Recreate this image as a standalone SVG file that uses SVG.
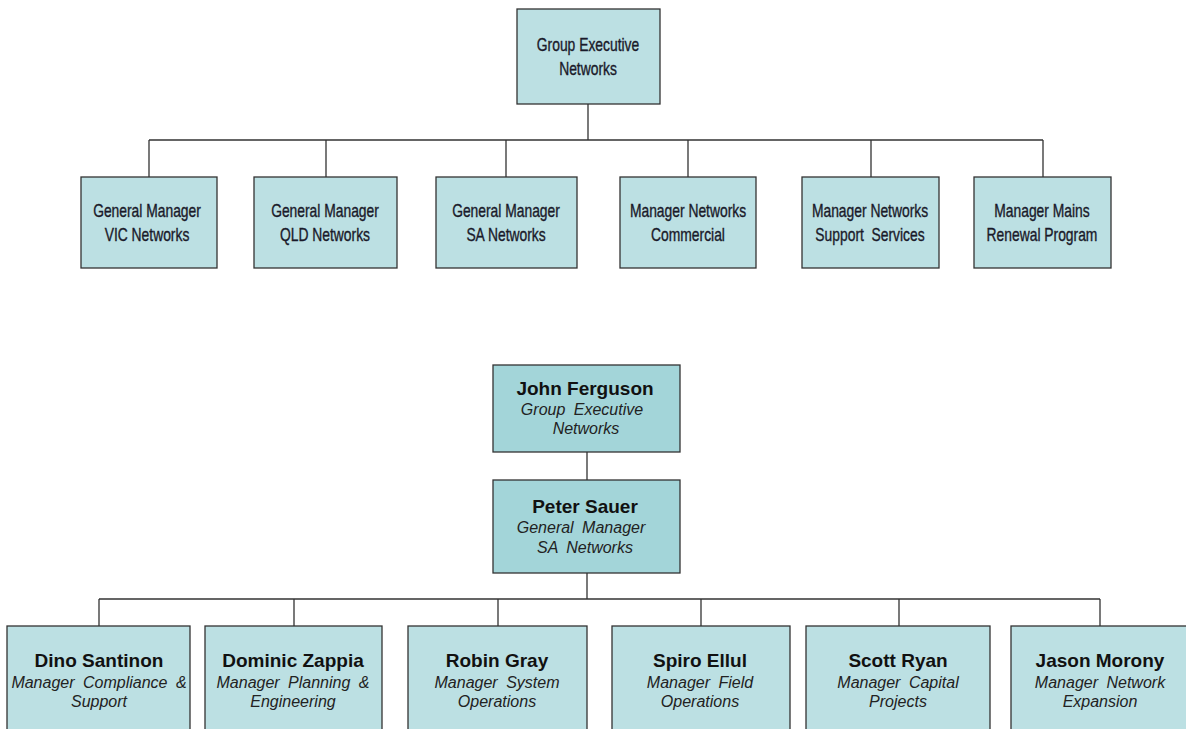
<svg xmlns="http://www.w3.org/2000/svg" width="1186" height="729" viewBox="0 0 1186 729">
<style>
.b1{fill:#bce0e3;stroke:#333;stroke-width:1.3}
.b2{fill:#a3d5d9;stroke:#333;stroke-width:1.3}
.n{font-family:"Liberation Sans",Arial,sans-serif;font-size:18px;fill:#1a1a2a;stroke:#1a1a2a;stroke-width:0.35;text-anchor:middle}
.nm{font-family:"Liberation Sans",Arial,sans-serif;font-size:19px;font-weight:bold;fill:#111;text-anchor:middle}
.rl{font-family:"Liberation Sans",Arial,sans-serif;font-size:16px;font-style:italic;fill:#222;text-anchor:middle;word-spacing:4px}
.c{fill:none;stroke:#333;stroke-width:1.3}
</style>
<rect width="1186" height="729" fill="#fff"/>
<g id="connectors">
<path class="c" d="M588 104V140M149 140H1043M149 140V177M326 140V177M506 140V177M688 140V177M871 140V177M1043 140V177"/>
<path class="c" d="M587 452V480M587 573V599M99 599H1100M99 599V626M294 599V626M498 599V626M701 599V626M899 599V626M1100 599V626"/>
</g>
<g id="top">
<rect class="b1" x="517" y="9" width="143" height="95"/>
<text class="n" transform="translate(588 51) scale(0.77 1)">Group Executive</text>
<text class="n" transform="translate(588 75) scale(0.77 1)">Networks</text>
</g>
<g id="gm-vic"><rect class="b1" x="81" y="177" width="136" height="91"/><text class="n" transform="translate(147 217) scale(0.77 1)">General Manager</text><text class="n" transform="translate(147 241) scale(0.77 1)">VIC Networks</text></g>
<g id="gm-qld"><rect class="b1" x="254" y="177" width="143" height="91"/><text class="n" transform="translate(325 217) scale(0.77 1)">General Manager</text><text class="n" transform="translate(325 241) scale(0.77 1)">QLD Networks</text></g>
<g id="gm-sa"><rect class="b1" x="436" y="177" width="141" height="91"/><text class="n" transform="translate(506 217) scale(0.77 1)">General Manager</text><text class="n" transform="translate(506 241) scale(0.77 1)">SA Networks</text></g>
<g id="mn-com"><rect class="b1" x="620" y="177" width="136" height="91"/><text class="n" transform="translate(688 217) scale(0.77 1)">Manager Networks</text><text class="n" transform="translate(688 241) scale(0.77 1)">Commercial</text></g>
<g id="mn-sup"><rect class="b1" x="802" y="177" width="137" height="91"/><text class="n" transform="translate(870 217) scale(0.77 1)">Manager Networks</text><text class="n" transform="translate(870 241) scale(0.77 1)" xml:space="preserve">Support  Services</text></g>
<g id="mm-ren"><rect class="b1" x="974" y="177" width="137" height="91"/><text class="n" transform="translate(1042 217) scale(0.77 1)">Manager Mains</text><text class="n" transform="translate(1042 241) scale(0.77 1)">Renewal Program</text></g>

<g id="john"><rect class="b2" x="493" y="365" width="187" height="87"/><text class="nm" x="585" y="395">John Ferguson</text><text class="rl" x="582" y="415">Group Executive</text><text class="rl" x="586" y="434">Networks</text></g>
<g id="peter"><rect class="b2" x="493" y="480" width="187" height="93"/><text class="nm" x="585" y="513">Peter Sauer</text><text class="rl" x="581" y="533">General Manager</text><text class="rl" x="585" y="553">SA Networks</text></g>

<g id="dino"><rect class="b1" x="7" y="626" width="183" height="110"/><text class="nm" x="99" y="667">Dino Santinon</text><text class="rl" x="99" y="688">Manager Compliance &amp;</text><text class="rl" x="99" y="707">Support</text></g>
<g id="dominic"><rect class="b1" x="205" y="626" width="177" height="110"/><text class="nm" x="293" y="667">Dominic Zappia</text><text class="rl" x="293" y="688">Manager Planning &amp;</text><text class="rl" x="293" y="707">Engineering</text></g>
<g id="robin"><rect class="b1" x="408" y="626" width="179" height="110"/><text class="nm" x="497" y="667">Robin Gray</text><text class="rl" x="497" y="688">Manager System</text><text class="rl" x="497" y="707">Operations</text></g>
<g id="spiro"><rect class="b1" x="612" y="626" width="178" height="110"/><text class="nm" x="700" y="667">Spiro Ellul</text><text class="rl" x="700" y="688">Manager Field</text><text class="rl" x="700" y="707">Operations</text></g>
<g id="scott"><rect class="b1" x="806" y="626" width="184" height="110"/><text class="nm" x="898" y="667">Scott Ryan</text><text class="rl" x="898" y="688">Manager Capital</text><text class="rl" x="898" y="707">Projects</text></g>
<g id="jason"><rect class="b1" x="1011" y="626" width="180" height="110"/><text class="nm" x="1100" y="667">Jason Morony</text><text class="rl" x="1100" y="688">Manager Network</text><text class="rl" x="1100" y="707">Expansion</text></g>
</svg>
